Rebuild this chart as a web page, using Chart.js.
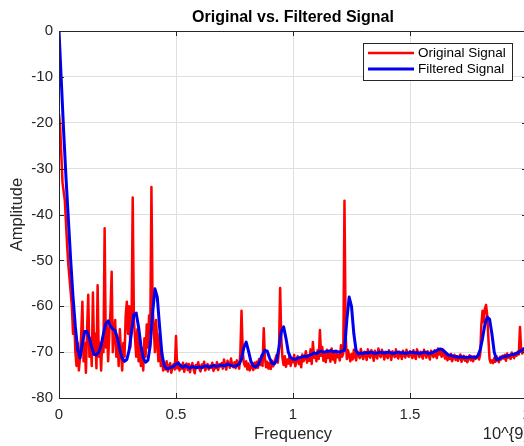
<!DOCTYPE html>
<html>
<head>
<meta charset="utf-8">
<script src="https://cdn.jsdelivr.net/npm/chart.js@4"></script>
<style>
  html, body { margin: 0; padding: 0; background: #fff; overflow: hidden; }
  #wrap { width: 524px; height: 446px; overflow: hidden; }
  canvas { display: block; }
</style>
</head>
<body>
<div id="wrap"><canvas id="chart" width="545" height="446"></canvas></div>
<script>
const FONT = '"Liberation Sans", Arial, Helvetica, sans-serif';
const AXIS_COLOR = '#262626';

const seriesNames = ['Original Signal', 'Filtered Signal'];
const xTicks = [0, 0.5, 1, 1.5, 2];
const xTickLabels = ['0', '0.5', '1', '1.5', '2'];
const yTicks = [0, -10, -20, -30, -40, -50, -60, -70, -80];
const exponentLabel = '10^{9}';

// original spectrum, one sample every 0.005 (x 10^9)
const originalStep = 0.005;
const originalAmp = [
  -18, -21, -27, -33, -35, -37, -42, -47, -51, -54,
  -57, -60, -66, -63, -70, -73, -68, -74, -71, -66,
  -59, -72, -68, -74.5, -65, -57.5, -71, -67, -73, -57,
  -70, -66, -73.5, -55.4, -71, -68, -74, -67, -70, -43,
  -69, -64, -72, -66, -61, -52.5, -70, -66, -63, -71,
  -67, -73, -65, -70, -74, -68, -71, -62, -59, -66,
  -60, -69, -64, -36.3, -63, -67, -71, -65, -72, -68,
  -73, -70, -74, -67, -71, -64, -69, -62, -66, -34,
  -60, -65, -70, -63, -68, -72, -66, -73, -70, -74,
  -72.5, -73.8, -72, -74.2, -73, -72.4, -74.5, -73.2, -72.6, -73.8,
  -66.5, -73.5, -72.2, -74, -72.8, -73.6, -72.3, -74.3, -73, -72.5,
  -73.9, -72.6, -74.4, -73.1, -72.4, -73.7, -74.6, -72.8, -73.4, -72.2,
  -73.6, -74.2, -72.7, -73.3, -72.1, -74, -73.2, -72.6, -73.8, -72.9,
  -73.4, -72.3, -74.1, -72.8, -73.5, -72.2, -73.9, -72.7, -73.1, -72.4,
  -73.6, -71.6, -72.9, -73.8, -71.9, -72.5, -73.4, -71.4, -72.8, -73.3,
  -72.2, -73.5, -71.8, -72.9, -73.6, -70.2, -61, -69.8, -72.4, -73.1,
  -72, -73.8, -72.5, -74, -73.2, -72.6, -73.9, -72.3, -73.5, -72.1,
  -73.4, -71.5, -72.8, -70.8, -73, -64.8, -71.2, -73.3, -72.1, -73.6,
  -72.4, -73.7, -71.9, -73.1, -72.2, -71.4, -70.6, -72.3, -69.8, -56,
  -67, -71.3, -72.8, -70.9, -73.2, -71.6, -72.5, -70.7, -73, -71.4,
  -72.2, -70.6, -73.1, -71.8, -70.9, -72.6, -71.2, -73.3, -70.5, -72,
  -71.4, -69.8, -72.3, -70.7, -71.9, -69.4, -72.6, -67.8, -71.2, -70.3,
  -72, -69.6, -71.5, -65.2, -70.8, -68.9, -71.9, -70.2, -72.2, -69.5,
  -71.3, -70.1, -72.1, -69.2, -71.6, -70.4, -72.3, -69.7, -71.1, -70.6,
  -71.8, -68.5, -71, -70.2, -37, -66, -71.5, -69.6, -70.8, -72,
  -70.4, -71.6, -69.5, -70.9, -71.8, -69.8, -70.6, -71.3, -69.3, -70.7,
  -71.5, -69.9, -70.5, -71.7, -69.4, -70.8, -71.2, -69.6, -70.3, -71.9,
  -69.7, -70.9, -71.4, -69.2, -70.6, -71.1, -69.5, -70.2, -71.6, -69.9,
  -70.8, -71.3, -69.6, -70.4, -71.7, -69.8, -70.5, -71.1, -69.4, -70.9,
  -71.4, -69.9, -70.3, -71.5, -69.7, -70.6, -71.2, -69.5, -70.7, -71,
  -69.8, -70.5, -71.3, -69.6, -70.9, -71.5, -69.4, -70.2, -71.1, -69.9,
  -70.7, -71.4, -69.5, -70.3, -71.2, -69.8, -70.6, -71.6, -69.7, -70.4,
  -71.1, -69.6, -70.8, -71.3, -69.2, -70.5, -69.8, -71, -69.5, -70.6,
  -71.4, -70.2, -71.8, -70.9, -71.5, -70.4, -72, -71.1, -70.6, -71.7,
  -70.9, -71.9, -71.2, -70.5, -72.1, -71.4, -70.8, -71.9, -71, -72.2,
  -71.3, -70.7, -71.8, -71.1, -72, -70.9, -71.5, -71.2, -70.8, -71.6,
  -70.5, -64, -61, -63.5, -60.5, -59.7, -62, -67, -71.5, -72.3,
  -71.8, -72.4, -71.3, -72.1, -70.9, -71.7, -72.2, -71, -71.6, -70.8,
  -71.4, -70.6, -71.9, -70.3, -71.2, -70.7, -71.5, -70.1, -70.9, -71.3,
  -70.2, -70.8, -69.9, -70.5, -64.5, -69.6, -70.3, -69.2, -69.8, -69.4,
  -69.5
];

// filtered spectrum, one sample every 0.01 (x 10^9)
const filteredStep = 0.01;
const filteredAmp = [
  0, -11, -22, -32, -41, -50, -58, -64.5, -69.5, -71.3,
  -68, -65.5, -65.5, -67, -69, -70.5, -70.6, -70, -68.5, -66,
  -63.8, -63.2, -64.3, -65, -65.3, -67, -69.5, -71.3, -72, -71.6,
  -69.5, -65.5, -61.8, -61.5, -64.5, -68.5, -71.3, -72.2, -71.8, -68.5,
  -61.5, -56.2, -58, -64.5, -70.5, -73, -73.6, -73.5, -73.3, -73.1,
  -72.6, -72.4, -73, -73.3, -72.9, -73.2, -73.5, -73.1, -73.3, -73.4,
  -73.2, -73.4, -73.1, -73, -73.3, -73.2, -72.9, -73.1, -73, -72.8,
  -72.9, -73, -72.6, -72.8, -73, -73.1, -72.9, -72.6, -71.5, -69,
  -67.8, -69.8, -72, -73, -73.2, -72.8, -71.8, -70.5, -69.6, -69.8,
  -71.3, -72.4, -72.6, -71.8, -69, -65.5, -64.5, -67, -70, -71.2,
  -71.5, -71.6, -71.3, -71.2, -71, -70.9, -71, -70.7, -70.5, -70.2,
  -70.3, -70, -69.8, -70, -69.9, -69.8, -69.7, -69.9, -69.8, -69.9,
  -70, -69.8, -69.6, -63, -58, -60, -66, -69.8, -70.4, -70.2,
  -70.3, -70.1, -70.2, -70, -70.1, -70.3, -70.2, -70, -70.1, -70.2,
  -70.1, -70, -70.2, -70.3, -70.1, -70, -70.2, -70.1, -70.3, -70.2,
  -70.1, -70, -70.2, -70.1, -70.3, -70.2, -70, -70.1, -70.3, -70.2,
  -70, -69.8, -69.5, -69.3, -69.5, -70, -70.5, -70.7, -70.8, -71,
  -71, -71.1, -71, -71.1, -71.2, -71.1, -71, -71.1, -71.2, -70.8,
  -69.5, -67, -64, -62.4, -62.8, -66, -70, -71.7, -71.5, -71.2,
  -71, -70.9, -70.8, -70.6, -70.5, -70.4, -70.2, -69.8, -69.5, -69.2,
  -69
];

function toPoints(values, step) {
  return values.map((v, i) => ({ x: i * step, y: v }));
}

const matlabAxes = {
  id: 'matlabAxes',
  afterDatasetsDraw(chart) {
    const { ctx, chartArea: a, scales: { x, y } } = chart;
    ctx.save();
    ctx.strokeStyle = AXIS_COLOR;
    ctx.lineWidth = 1;
    ctx.strokeRect(a.left + 0.5, a.top + 0.5, a.right - a.left, a.bottom - a.top);
    ctx.beginPath();
    xTicks.forEach((v) => {
      const px = Math.round(x.getPixelForValue(v)) + 0.5;
      ctx.moveTo(px, a.bottom); ctx.lineTo(px, a.bottom - 5);
      ctx.moveTo(px, a.top); ctx.lineTo(px, a.top + 5);
    });
    yTicks.forEach((v) => {
      const py = Math.round(y.getPixelForValue(v)) + 0.5;
      ctx.moveTo(a.left, py); ctx.lineTo(a.left + 5, py);
      ctx.moveTo(a.right, py); ctx.lineTo(a.right - 5, py);
    });
    ctx.stroke();
    ctx.restore();
  },
  afterDraw(chart) {
    const { ctx, chartArea: a } = chart;
    const cx = (a.left + a.right) / 2;
    const cy = (a.top + a.bottom) / 2;
    ctx.save();

    ctx.fillStyle = '#000';
    ctx.font = `bold 16px ${FONT}`;
    ctx.textAlign = 'center';
    ctx.textBaseline = 'middle';
    ctx.fillText('Original vs. Filtered Signal', cx, 18);

    ctx.fillStyle = AXIS_COLOR;
    ctx.font = `16.5px ${FONT}`;
    ctx.fillText('Frequency', cx, 434);
    ctx.textAlign = 'right';
    ctx.fillText(exponentLabel, a.right + 2, 434);

    ctx.save();
    ctx.translate(17, cy);
    ctx.rotate(-Math.PI / 2);
    ctx.textAlign = 'center';
    ctx.fillText('Amplitude', 0, 0);
    ctx.restore();

    // legend
    const lx = 363, ly = 43, lw = 149, lh = 37;
    ctx.fillStyle = '#fff';
    ctx.fillRect(lx, ly, lw, lh);
    ctx.strokeStyle = AXIS_COLOR;
    ctx.lineWidth = 1;
    ctx.strokeRect(lx + 0.5, ly + 0.5, lw, lh);
    const rows = [
      { label: seriesNames[0], color: '#ff0000', width: 2.5, y: 53 },
      { label: seriesNames[1], color: '#0000f0', width: 3, y: 69 }
    ];
    ctx.font = `13.5px ${FONT}`;
    ctx.textAlign = 'left';
    ctx.textBaseline = 'middle';
    rows.forEach((r) => {
      ctx.strokeStyle = r.color;
      ctx.lineWidth = r.width;
      ctx.beginPath();
      ctx.moveTo(368, r.y); ctx.lineTo(414, r.y);
      ctx.stroke();
      ctx.fillStyle = '#000';
      ctx.fillText(r.label, 418, r.y);
    });
    ctx.restore();
  }
};

new Chart(document.getElementById('chart'), {
  type: 'line',
  data: {
    datasets: [
      {
        label: seriesNames[1],
        data: toPoints(filteredAmp, filteredStep),
        borderColor: '#0000f0',
        borderWidth: 3,
        borderJoinStyle: 'round',
        order: 0
      },
      {
        label: seriesNames[0],
        data: toPoints(originalAmp, originalStep),
        borderColor: '#ff0000',
        borderWidth: 2.5,
        borderJoinStyle: 'round',
        order: 1
      }
    ]
  },
  options: {
    responsive: false,
    animation: false,
    devicePixelRatio: 1,
    layout: { padding: { left: 0, right: 18, top: 31, bottom: 0 } },
    elements: { point: { radius: 0 }, line: { tension: 0 } },
    plugins: { legend: { display: false }, title: { display: false }, tooltip: { enabled: false } },
    scales: {
      x: {
        type: 'linear',
        min: 0,
        max: 2,
        afterFit: (scale) => { scale.height = 48; },
        afterBuildTicks: (scale) => { scale.ticks = xTicks.map((v) => ({ value: v })); },
        ticks: {
          color: AXIS_COLOR,
          font: { family: FONT, size: 15 },
          padding: 8,
          maxRotation: 0,
          autoSkip: false,
          callback: (value, index) => xTickLabels[index]
        },
        grid: { color: '#dfdfdf', drawTicks: false },
        border: { display: false }
      },
      y: {
        min: -80,
        max: 0,
        afterFit: (scale) => { scale.width = 59; },
        afterBuildTicks: (scale) => { scale.ticks = yTicks.map((v) => ({ value: v })); },
        ticks: { color: AXIS_COLOR, font: { family: FONT, size: 15 }, padding: 6 },
        grid: { color: '#dfdfdf', drawTicks: false },
        border: { display: false }
      }
    }
  },
  plugins: [matlabAxes]
});
</script>
</body>
</html>
